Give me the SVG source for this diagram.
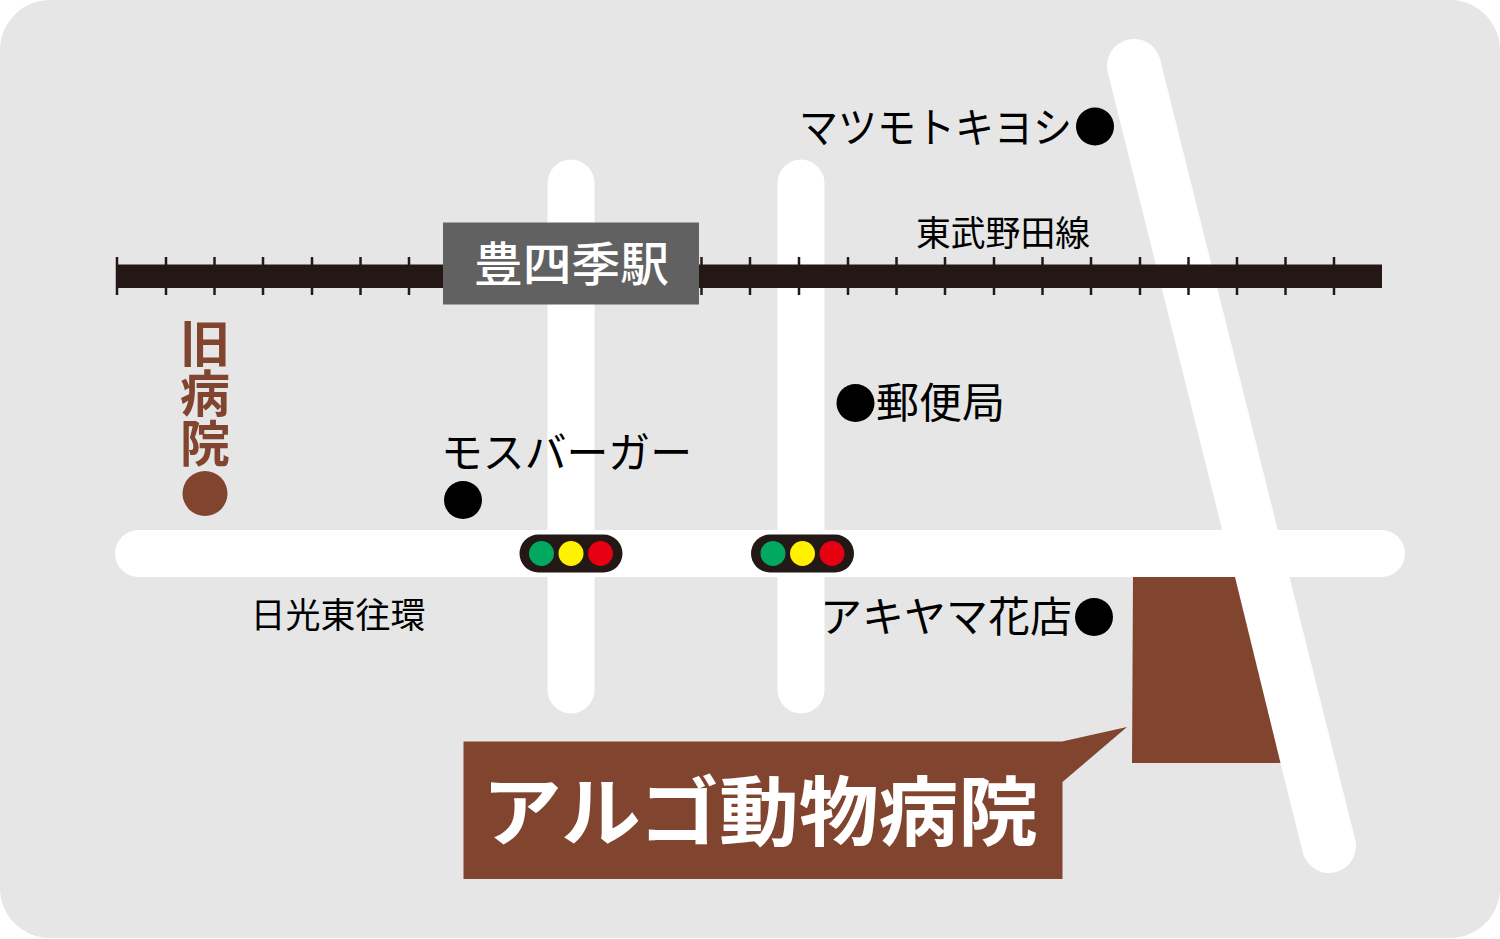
<svg xmlns="http://www.w3.org/2000/svg" width="1500" height="939" viewBox="0 0 1500 939">
<style>
.road{stroke:#fff;stroke-width:47;stroke-linecap:round;fill:none}
.tick{stroke:#231815;stroke-width:2.500;fill:none}
text{font-family:"Noto Sans CJK JP","Noto Sans",sans-serif;fill:#000}
.lbl{font-size:35px}
.big{font-size:42px}
.brown{fill:#81452f}
.dot{fill:#000}
.housing{fill:#231815}
.g{fill:#00a95f}.y{fill:#fff100}.r{fill:#e60012}
</style>
<rect id="ground" x="0" y="0" width="1500" height="938" rx="50" ry="50" fill="#e6e6e6"/>
<g id="roads">
<line class="road" x1="571" y1="183" x2="571" y2="690"/>
<line class="road" x1="801" y1="183" x2="801" y2="690"/>
<line class="road" x1="138.500" y1="553.500" x2="1381.500" y2="553.500"/>
<line class="road" style="stroke-width:54" x1="1134" y1="66" x2="1329" y2="846"/>
</g>
<g id="railway">
<rect x="116" y="264.500" width="1266" height="23.500" fill="#231815"/>
<path class="tick" d="M117 257V295M166 257V295M214.500 257V295M263 257V295M312 257V295M360.500 257V295M409 257V295M701.500 257V295M750 257V295M799 257V295M848 257V295M896.500 257V295M945 257V295M994 257V295M1042.500 257V295M1091 257V295M1140 257V295M1188.500 257V295M1237 257V295M1285.500 257V295M1334 257V295"/>
</g>
<g id="station">
<rect x="443" y="222.500" width="256" height="82" fill="#616161"/>
<text x="474" y="281" font-size="47" textLength="195" lengthAdjust="spacingAndGlyphs" style="fill:#fff;font-weight:500">豊四季駅</text>
</g>
<g id="hospital-site">
<path class="brown" d="M1133 577H1235L1280.500 763H1132Z"/>
</g>
<g id="hospital-label">
<path class="brown" d="M463.500 741.500H1062L1127 727L1062.500 782V879H463.500Z"/>
<text x="482" y="840" font-size="76" textLength="556" lengthAdjust="spacingAndGlyphs" style="fill:#fff;font-weight:700">アルゴ動物病院</text>
</g>
<g id="old-hospital">
<text x="205" y="318" font-size="50" class="brown" writing-mode="vertical-rl" style="font-weight:700">旧病院</text>
<circle class="brown" cx="205" cy="493.500" r="22.500"/>
</g>
<g id="matsumoto">
<text class="big" x="799" y="143" textLength="273" lengthAdjust="spacingAndGlyphs">マツモトキヨシ</text>
<circle class="dot" cx="1095" cy="126.500" r="19"/>
</g>
<g id="tobu-line"><text class="lbl" x="916" y="246" textLength="174" lengthAdjust="spacingAndGlyphs">東武野田線</text></g>
<g id="post-office">
<circle class="dot" cx="855.500" cy="403" r="19"/>
<text class="big" x="876" y="418" textLength="129" lengthAdjust="spacingAndGlyphs">郵便局</text>
</g>
<g id="mos-burger">
<text class="big" x="441" y="468" textLength="251" lengthAdjust="spacingAndGlyphs">モスバーガー</text>
<circle class="dot" cx="463" cy="500" r="19"/>
</g>
<g id="nikko-road"><text class="lbl" x="250.500" y="628" textLength="175" lengthAdjust="spacingAndGlyphs">日光東往環</text></g>
<g id="akiyama">
<text class="big" x="820" y="632" textLength="252" lengthAdjust="spacingAndGlyphs">アキヤマ花店</text>
<circle class="dot" cx="1094" cy="617" r="19"/>
</g>
<g id="signal-1">
<rect class="housing" x="519.500" y="534.500" width="103" height="38" rx="19"/>
<circle class="g" cx="541.500" cy="553.500" r="12.500"/>
<circle class="y" cx="571" cy="553.500" r="12.500"/>
<circle class="r" cx="600.500" cy="553.500" r="12.500"/>
</g>
<g id="signal-2">
<rect class="housing" x="751" y="534.500" width="103" height="38" rx="19"/>
<circle class="g" cx="773" cy="553.500" r="12.500"/>
<circle class="y" cx="802.500" cy="553.500" r="12.500"/>
<circle class="r" cx="832" cy="553.500" r="12.500"/>
</g>
</svg>
